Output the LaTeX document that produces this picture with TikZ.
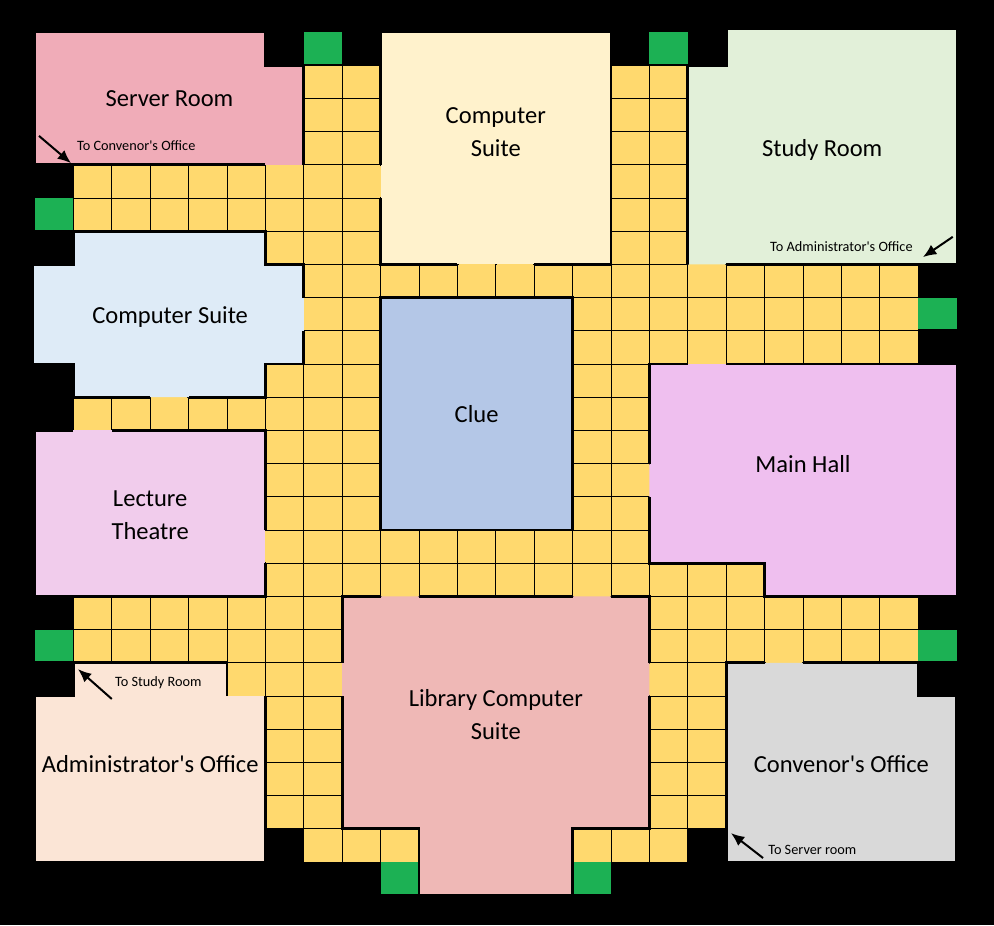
\documentclass[tikz,border=0pt]{standalone}
\usepackage{fontspec}
\setmainfont{Carlito}[Ligatures=TeXOff]
\usetikzlibrary{arrows.meta}
\definecolor{clServer}{HTML}{F0ACB8}
\definecolor{clSuite}{HTML}{FFF2CC}
\definecolor{clStudy}{HTML}{E2F0D9}
\definecolor{clComputer}{HTML}{DEEBF7}
\definecolor{clClue}{HTML}{B4C7E7}
\definecolor{clLecture}{HTML}{F1CCEC}
\definecolor{clHall}{HTML}{EFBFEF}
\definecolor{clLibrary}{HTML}{EFB8B6}
\definecolor{clAdmin}{HTML}{FBE5D6}
\definecolor{clConvenor}{HTML}{D9D9D9}
\definecolor{clCorridor}{HTML}{FFD96E}
\definecolor{clStart}{HTML}{1CB154}
\newcommand{\cellRow}[2]{\foreach \col in {#2} {\draw[clCell] (\col,#1) rectangle ++(1,1);}}
\tikzset{
    clCell/.style={
        draw=black,
        line width=0.75pt,
        fill=clCorridor
    },
    clStartCell/.style={fill=clStart},
    clDoor/.style={fill=clCorridor},
    clWall/.style={
        draw=black,
        line width=2pt,
        line join=miter
    },
    % Labels
    clRoomLabel/.style={
        font=\fontsize{18.4}{24.9}\selectfont,
        align=center,
        inner sep=0pt
    },
    clNote/.style={
        font=\fontsize{10.7}{12}\selectfont,
        anchor=west,
        inner sep=0pt
    },
    % Arrows
    clArrowBase/.style={-{Latex[length=10pt,width=8.5pt]}, line width=1.5pt, draw=black}
}

\begin{document}
\begin{tikzpicture}[x=28.8pt, y=-24.9pt]
    \fill[black] (-0.9115,-0.9639) rectangle (24.974,26.9)
        [use as bounding box];

    % Corridor squares, row by row
    \cellRow{1}{7,8,15,16}
    \cellRow{2}{7,8,15,16}
    \cellRow{3}{7,8,15,16}
    \cellRow{4}{1,...,8,15,16}
    \cellRow{5}{1,...,8,15,16}
    \cellRow{6}{6,7,8,15,16}
    \cellRow{7}{7,...,22}
    \cellRow{8}{7,8,14,15,...,22}
    \cellRow{9}{7,8,14,15,...,22}
    \cellRow{10}{6,7,8,14,15}
    \cellRow{11}{1,...,8,14,15}
    \cellRow{12}{6,7,8,14,15}
    \cellRow{13}{6,7,8,14,15}
    \cellRow{14}{6,7,8,14,15}
    \cellRow{15}{6,...,15}
    \cellRow{16}{6,...,18}
    \cellRow{17}{1,...,7,16,17,...,22}
    \cellRow{18}{1,...,7,16,17,...,22}
    \cellRow{19}{5,6,7,16,17}
    \cellRow{20}{6,7,16,17}
    \cellRow{21}{6,7,16,17}
    \cellRow{22}{6,7,16,17}
    \cellRow{23}{6,7,16,17}
    \cellRow{24}{7,8,9,14,15,16}

    % Start squares
    \foreach \col/\row in {7/0, 16/0, 0/5, 23/8, 0/18, 23/18, 9/25, 14/25} {
        \fill[clStartCell] (\col,\row) rectangle ++(1,0.96);
    }

    % Door openings
    \foreach \col/\row in {6/4, 11/7, 12/7, 17/7, 3/11, 1/12, 17/10, 9/17, 14/17, 5/20, 19/19} {
        \fill[clDoor] (\col+0.03,\row-0.06) rectangle (\col+0.97,\row+0.06);
    }
    \foreach \col/\row in {9/4, 7/8, 6/15, 16/13, 8/19, 16/19} {
        \fill[clDoor] (\col-0.05,\row+0.03) rectangle (\col+0.05,\row+0.97);
    }

    % Room floors
    \fill[clServer] (0,0) -- (6,0) -- (6,1) -- (7,1) -- (7,4) -- (0,4) -- cycle;
    \fill[clSuite] (9,0) rectangle (15,7);
    \fill[clStudy] (18,-0.09) -- (24.02,-0.09) -- (24.02,7) -- (17,7) -- (17,1) -- (18,1) -- cycle;
    \fill[clComputer] (1,6) -- (6,6) -- (6,7) -- (7,7) -- (7,10) -- (6,10) -- (6,11) -- (1,11) -- (1,10) -- (-0.05,10) -- (-0.05,7) -- (1,7) -- cycle;
    \fill[clClue] (9,8) rectangle (14,15);
    \fill[clLecture] (0,12) rectangle (6,17);
    \fill[clHall] (16,10) -- (24.03,10) -- (24.03,17) -- (19,17) -- (19,16) -- (16,16) -- cycle;
    \fill[clLibrary] (8,17) -- (16,17) -- (16,24) -- (14,24) -- (14,26) -- (10,26) -- (10,24) -- (8,24) -- cycle;
    \fill[clAdmin] (1,19) -- (5,19) -- (5,20) -- (6,20) -- (6,25) -- (0,25) -- (0,20) -- (1,20) -- cycle;
    \fill[clConvenor] (18,19) -- (23,19) -- (23,20) -- (24,20) -- (24,25) -- (18,25) -- cycle;

    % Walls, broken at the doors
    \draw[clWall] (6,4) -- (0,4) -- (0,0) -- (6,0) -- (6,1) -- (7,1) -- (7,4);
    \draw[clWall] (9,5) -- (9,7) -- (11,7) (13,7) -- (15,7) -- (15,0) -- (9,0) -- (9,4);
    \draw[clWall] (18,7) -- (24.02,7) -- (24.02,-0.09) -- (18,-0.09) -- (18,1) -- (17,1) -- (17,7);
    \draw[clWall] (7,9) -- (7,10) -- (6,10) -- (6,11) -- (4,11) (3,11) -- (1,11) -- (1,10) -- (-0.05,10) -- (-0.05,7) -- (1,7) -- (1,6) -- (6,6) -- (6,7) -- (7,7) -- (7,8);
    \draw[clWall] (9,8) rectangle (14,15);
    \draw[clWall] (2,12) -- (6,12) -- (6,15) (6,16) -- (6,17) -- (0,17) -- (0,12) -- (1,12);
    \draw[clWall] (18,10) -- (24.03,10) -- (24.03,17) -- (19,17) -- (19,16) -- (16,16) -- (16,14) (16,13) -- (16,10) -- (17,10);
    \draw[clWall] (10,17) -- (14,17) (15,17) -- (16,17) -- (16,19) (16,20) -- (16,24) -- (14,24) -- (14,26) -- (10,26) -- (10,24) -- (8,24) -- (8,20) (8,19) -- (8,17) -- (9,17);
    \draw[clWall] (5,20) -- (5,19) -- (1,19) -- (1,20) -- (0,20) -- (0,25) -- (6,25) -- (6,20);
    \draw[clWall] (20,19) -- (23,19) -- (23,20) -- (24,20) -- (24,25) -- (18,25) -- (18,19) -- (19,19);

    \node[clRoomLabel] (server) at (3.5,2) {Server Room};
    \node[clRoomLabel] (suite) at (12,3.02) {Computer\\Suite};
    \node[clRoomLabel] (study) at (20.5,3.55) {Study Room};
    \node[clRoomLabel] (computer) at (3.52,8.58) {Computer Suite};
    \node[clRoomLabel] (clue) at (11.5,11.52) {Clue};
    \node[clRoomLabel] (lecture) at (3,14.55) {Lecture\\Theatre};
    \node[clRoomLabel] (hall) at (20,13) {Main Hall};
    \node[clRoomLabel] (library) at (12,20.55) {Library Computer\\Suite};
    \node[clRoomLabel] (admin) at (3,22.06) {Administrator's Office};
    \node[clRoomLabel] (convenor) at (21,22.06) {Convenor's Office};

    \node[clNote] (toConvenor) at (1.09,3.43) {To Convenor's Office};
    \node[clNote] (toAdmin) at (19.14,6.45) {To Administrator's Office};
    \node[clNote] (toStudy) at (2.08,19.61) {To Study Room};
    \node[clNote] (toServer) at (19.09,24.64) {To Server room};

    \coordinate (serverFrom) at (0.104,3.13);
    \coordinate (serverTip) at (0.9375,3.95);
    \coordinate (studyFrom) at (23.9,6.17);
    \coordinate (studyTip) at (23.125,6.78);
    \coordinate (adminFrom) at (2.0,20.09);
    \coordinate (adminTip) at (1.12,19.19);
    \coordinate (convenorFrom) at (18.96,24.88);
    \coordinate (convenorTip) at (18.125,24.13);

    \draw[clArrowBase] (serverFrom) -- (serverTip);
    \draw[clArrowBase] (studyFrom) -- (studyTip);
    \draw[clArrowBase] (adminFrom) -- (adminTip);
    \draw[clArrowBase] (convenorFrom) -- (convenorTip);
\end{tikzpicture}
\end{document}
